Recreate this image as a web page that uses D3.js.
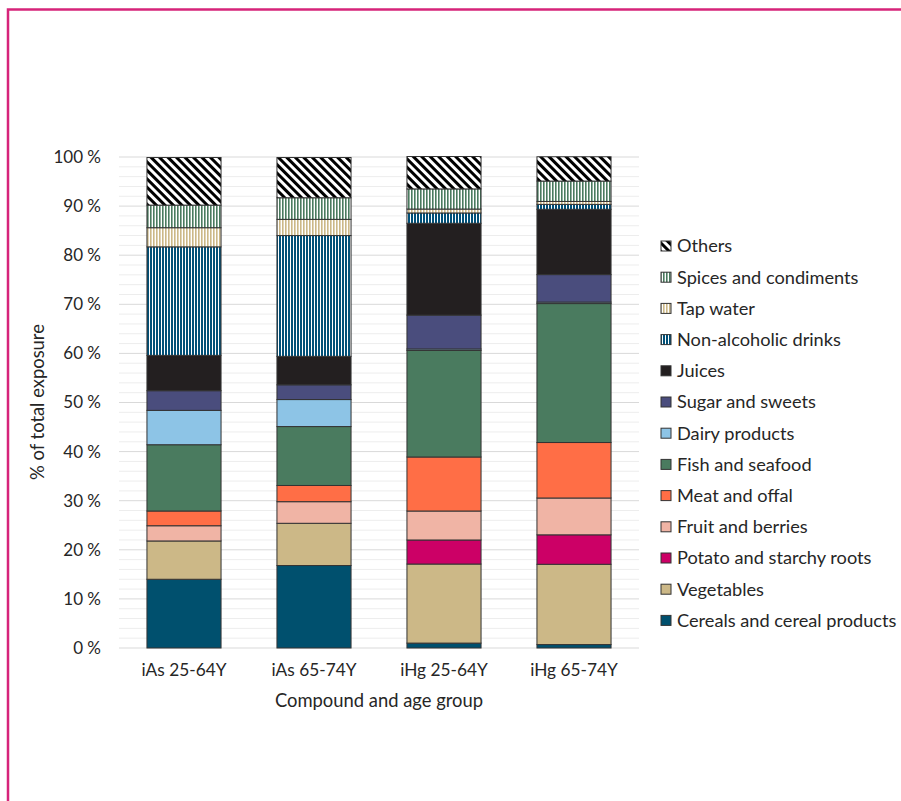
<!DOCTYPE html>
<html><head><meta charset="utf-8">
<script src="https://cdn.jsdelivr.net/npm/d3@7"></script>
<style>body{margin:0;background:#fff}svg{display:block}text{font-family:Lato,"Open Sans",sans-serif;fill:#262626}</style>
</head><body><svg id="c" width="901" height="801"></svg>
<script>
const groups = ["iAs 25-64Y","iAs 65-74Y","iHg 25-64Y","iHg 65-74Y"];
const categories = ["Cereals and cereal products","Vegetables","Potato and starchy roots","Fruit and berries","Meat and offal","Fish and seafood","Dairy products","Sugar and sweets","Juices","Non-alcoholic drinks","Tap water","Spices and condiments","Others"];
const cereals   = [14.0, 16.8, 1.0, 0.7];
const vegetables= [7.8, 8.6, 16.1, 16.35];
const potato    = [0, 0, 4.9, 6.0];
const fruit     = [3.1, 4.4, 5.9, 7.5];
const meat      = [3.0, 3.3, 11.0, 11.3];
const fish      = [13.5, 12.0, 21.7, 28.3];
const dairy     = [7.0, 5.5, 0.3, 0.3];
const sugar     = [4.0, 3.0, 6.9, 5.6];
const juices    = [7.2, 5.8, 18.7, 13.3];
const nonAlc    = [22.1, 24.6, 2.1, 1.0];
const tapWater  = [3.9, 3.3, 0.8, 0.6];
const spices    = [4.6, 4.4, 4.1, 4.15];
const others    = [9.7, 8.2, 6.6, 4.95];
const yTicks = [0,10,20,30,40,50,60,70,80,90,100];
const seriesValues = [cereals,vegetables,potato,fruit,meat,fish,dairy,sugar,juices,nonAlc,tapWater,spices,others];
const fills = ["#00506E","#CCB887","#CC0066","#F0B4A5","#FF6E46","#4A7B5F","#8DC4E6","#4A4D7D","#231F20","url(#pNon)","url(#pTap)","url(#pSpi)","url(#pOth)"];

const svg = d3.select("#c");
// frame
svg.append("rect").attr("x",8).attr("y",9.5).attr("width",1000).attr("height",1000)
  .attr("fill","none").attr("stroke","#D6247A").attr("stroke-width",2.5);

const defs = svg.append("defs");
function stripes(id,color,w,cw){
  const p=defs.append("pattern").attr("id",id).attr("patternUnits","userSpaceOnUse").attr("width",w).attr("height",10);
  p.append("rect").attr("width",w).attr("height",10).attr("fill","#fff");
  p.append("rect").attr("width",cw).attr("height",10).attr("fill",color);
}
stripes("pNon","#005078",3,2);
stripes("pTap","#CCB887",3,1.6);
stripes("pSpi","#4A7B5F",3,1.6);
const po=defs.append("pattern").attr("id","pOth").attr("patternUnits","userSpaceOnUse").attr("width",6).attr("height",6).attr("patternTransform","rotate(-45)");
po.append("rect").attr("width",6).attr("height",6).attr("fill","#fff");
po.append("rect").attr("width",3).attr("height",6).attr("fill","#000");

const pLeft=119, pRight=639, pTop=157, pBottom=648;
const x = d3.scaleBand().domain(groups).range([pLeft,pRight]).paddingInner(0.43).paddingOuter(0.215);
const y = d3.scaleLinear().domain([0,100]).range([pBottom,pTop]);

// grid
const g = svg.append("g");
g.selectAll(".mn").data(d3.range(0,101,2).filter(v=>v%10)).enter().append("line")
  .attr("x1",pLeft).attr("x2",pRight).attr("y1",d=>y(d)).attr("y2",d=>y(d)).attr("stroke","#EDEDED").attr("stroke-width",1);
g.selectAll(".mj").data(yTicks).enter().append("line")
  .attr("x1",pLeft).attr("x2",pRight).attr("y1",d=>y(d)).attr("y2",d=>y(d)).attr("stroke","#D9D9D9").attr("stroke-width",1);

// y axis labels
const ya = svg.append("g").attr("transform",`translate(${pLeft},0)`)
  .call(d3.axisLeft(y).tickValues(yTicks).tickFormat(d=>d+" %").tickSize(0).tickPadding(18));
ya.select(".domain").remove();
ya.selectAll("text").style("font-size","17px").attr("fill","#262626").style("font-family","Lato");

// x axis
const xa = svg.append("g").attr("transform",`translate(0,${pBottom})`)
  .call(d3.axisBottom(x).tickSize(0).tickPadding(16));
xa.select(".domain").remove();
xa.selectAll("text").style("font-size","17.3px").attr("fill","#262626").style("font-family","Lato");

// stacks
const table = groups.map((gname,i)=>{const o={group:gname};categories.forEach((c,j)=>o[c]=seriesValues[j][i]);return o;});
const stack = d3.stack().keys(categories)(table);
stack.forEach((s,j)=>{
  svg.append("g").selectAll("rect").data(s).enter().append("rect")
    .attr("x",d=>x(d.data.group)).attr("width",x.bandwidth())
    .attr("y",d=>y(d[1])).attr("height",d=>Math.max(0,y(d[0])-y(d[1])))
    .attr("fill",fills[j]).attr("stroke",d=>(d[1]-d[0])>0?"#333":"none").attr("stroke-width",1);
});

// axis titles
svg.append("text").attr("x",379).attr("y",707).attr("text-anchor","middle").style("font-size","18.4px").text("Compound and age group");
svg.append("text").attr("transform","translate(44,402) rotate(-90)").attr("text-anchor","middle").style("font-size","18.4px").text("% of total exposure");

// legend
const leg = svg.append("g");
const order = categories.slice().reverse();
order.forEach((c,i)=>{
  const j = categories.indexOf(c);
  const yy = 246 + i*31.2;
  leg.append("rect").attr("x",661).attr("y",yy-5).attr("width",10).attr("height",10).attr("fill",fills[j]).attr("stroke","#333").attr("stroke-width",1);
  leg.append("text").attr("x",677).attr("y",yy).attr("dy","0.35em").style("font-size","18.2px").text(c);
});
</script></body></html>
